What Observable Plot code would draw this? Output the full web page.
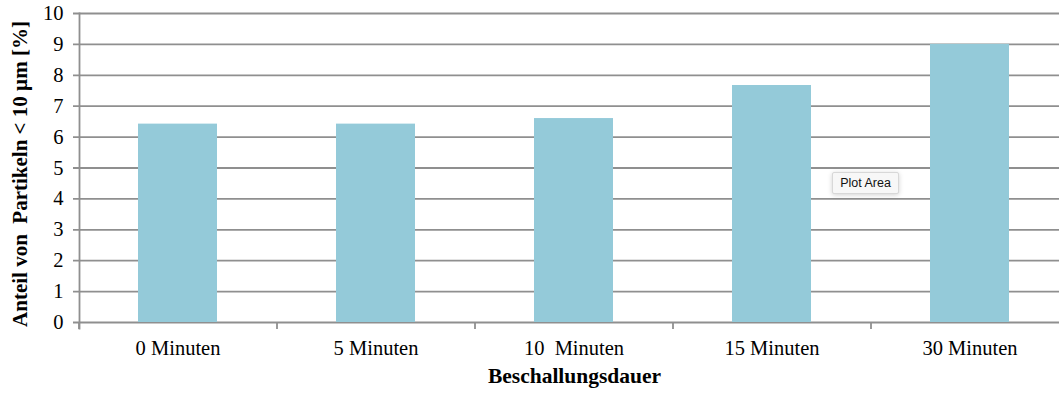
<!DOCTYPE html>
<html>
<head>
<meta charset="utf-8">
<script src="https://cdn.jsdelivr.net/npm/d3@7"></script>
<script src="https://cdn.jsdelivr.net/npm/@observablehq/plot@0.6"></script>
<style>
  html, body { margin: 0; padding: 0; background: #fff; overflow: hidden; }
  #wrap { position: relative; width: 1059px; height: 394px; overflow: hidden; }
  #wrap svg { max-width: none !important; display: block; }
  .tip {
    position: absolute; left: 832px; top: 172px; width: 65px; height: 20px;
    background: #f7f7f7; border: 1px solid #d8d8d8; border-radius: 2px;
    box-shadow: 0 1px 5px rgba(0,0,0,0.18);
    font: 12.5px "Liberation Sans", Arial, sans-serif; color: #111;
    line-height: 20px; text-align: center;
  }
</style>
</head>
<body>
<div id="wrap"></div>
<script>
// Sonication time categories and the share of particles below 10 µm
const categories = ["0 Minuten", "5 Minuten", "10  Minuten", "15 Minuten", "30 Minuten"];
const values = [6.42, 6.42, 6.6, 7.67, 9.0];
const yTicks = [0, 1, 2, 3, 4, 5, 6, 7, 8, 9, 10];
const yTitle = "Anteil von  Partikeln < 10 µm [%]";
const xTitle = "Beschallungsdauer";

const data = categories.map((c, i) => ({cat: c, val: values[i]}));

const width = 1070, height = 394;
const marginLeft = 79, marginRight = 1, marginTop = 13, marginBottom = 72;
const step = (width - marginLeft - marginRight) / categories.length;
const gridColor = "#8f8f8f";
const font = "'Liberation Serif', 'Times New Roman', serif";

const chart = Plot.plot({
  width, height, marginLeft, marginRight, marginTop, marginBottom,
  style: {fontFamily: font, fontSize: "20.5px", color: "#000", background: "#fff", maxWidth: "none"},
  x: {domain: categories, paddingInner: 0.6, paddingOuter: 0.3, label: null},
  y: {domain: [0, 10], label: null},
  marks: [
    // horizontal gridlines, extending left through the tick marks
    Plot.ruleY(yTicks, {stroke: gridColor, strokeWidth: 1.8, insetLeft: -6}),
    Plot.barY(data, {x: "cat", y: "val", fill: "#94cad9"}),
    // vertical axis line
    Plot.frame({anchor: "left", stroke: gridColor, strokeWidth: 1.8, insetBottom: -6}),
    Plot.axisY({ticks: yTicks, tickSize: 0, tickPadding: 16, fontSize: 20.5, label: null}),
    // category boundary ticks below the baseline
    Plot.axisX({tickSize: 7, text: null, dx: -step / 2, stroke: gridColor, strokeWidth: 1.8, label: null}),
    Plot.axisX({tickSize: 0, tickPadding: 18, fontSize: 20.5, label: null}),
    Plot.text([xTitle], {frameAnchor: "bottom", dy: 54, lineAnchor: "middle",
      fontWeight: "bold", fontSize: 21.5, fill: "#000"}),
    Plot.text([yTitle], {frameAnchor: "left", dx: -59, dy: 6, rotate: -90, textAnchor: "middle",
      lineAnchor: "middle", fontWeight: "bold", fontSize: 21, fill: "#000"})
  ]
});

const wrap = document.getElementById("wrap");
wrap.appendChild(chart);
const tip = document.createElement("div");
tip.className = "tip";
tip.textContent = "Plot Area";
wrap.appendChild(tip);
</script>
</body>
</html>
